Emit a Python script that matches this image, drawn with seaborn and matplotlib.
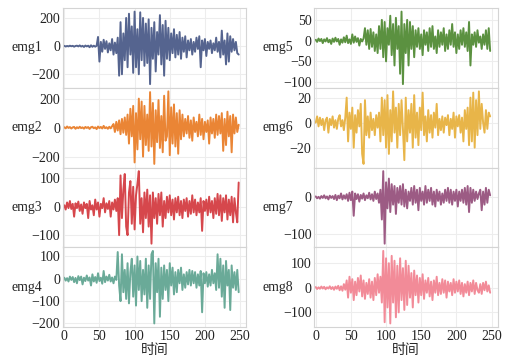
import matplotlib
matplotlib.use("Agg")
import matplotlib.pyplot as plt
import numpy as np
import pandas as pd
import seaborn as sns

# ── Data (one sample every 2 time steps) ─────────────────────────────────────
emg1 = [2, -3, 1, -2, 3, -1, 2, -4, 1, 3, -2, 5, -3, 2, -6, 4, -2, 3, -8, 6, -5, 3, -4, 2,
        65, -110, 30, -40, 45, -20, 35, -45, 20, -30, 50, -60, 25, -50, 60,
        -210, 170, -200, 90, -100, 200, -150, 230, -60, 140, -190, 245, -150, 120, -200,
        240, -100, 200, -140, 160, -120, 190, -270, 130, -90, 170, -180, 100, -60, 220,
        -130, 150, -210, 180, -90, 130, -100, 90, -50, 120, -80, 80, -60, 100, -90,
        60, -40, 70, -80, 40, -30, 50, -60, 30, -40, 60, -20, 70, -150, 40, -30,
        50, -70, 30, -20, 40, -50, 20, -30, 60, -40, 30, -80, 110, -60, 40, -130,
        90, -110, 70, -40, 50, -30, 30, -50, -60]
emg2 = [3, -5, 8, -2, 4, -6, 2, 5, -8, 3, -4, 6, -3, 2, -7, 5, -2, 4, -9, 3, 6, -4, 2, -10,
        8, -3, 5, -6, 12, -4, 3, -8, 6, -5, 10,
        25, -30, 40, -20, 50, -45, 60, -35, 70, -50,
        90, -110, 130, -60, 150, -240, 100, -150, 200, -80, 180, -200, 150, -120, 90,
        -160, 245, -130, 170, -250, 120, -100, 190, -140, 80, -170, 220, -90, -60, 250,
        -190, 140, -110, 160, -130, 100, -180, 120, -80, 90, -60,
        60, -40, 80, -70, 50, -90, 70, -30, 40, -60, 90, -50, 60, -80, 40, -30, 50,
        -110, 70, -40, 60, -70, 90, -50, 80, -40, 100, -160, 60, -120, 110, -60, 80,
        -170, 90, -40, 70, -30, 20]
emg3 = [5, -10, 15, -5, 20, -8, 10, -35, 12, -5, 18, -15, 8, -25, 15, -5, 10, -40, 20, -10,
        5, -30, 25, -10, 15, -35, 10, -5, 30, -20, 12, -8, 20, -35, 15, -10, 25, -15,
        30, -100, 110, -40, 60, 115, -70, -100, 50, 90, -60, 70, -80, 40, 80, 125, -60,
        30, -90, 50, -40, 60, -70,
        40, -130, 50, -40, 30, -60, 45, -30, 50, -70, 20, -40, 35, -20, 40, -30, 25, -45,
        30, -20, 35, -30, 20, -40, 25, -15, 30, -35, 20, -25, 40, -20, 25, -30, 15, -20,
        30, -85, 20, -15, 25, -30, 35, -20, 20, -40, 30, -25, 45, -30, 40, -50, 30, -20,
        40, -45, 25, -30, 35, -55, 30, -20, -55, 85]
emg4 = [5, -8, 3, -12, 10, -5, 8, -15, 4, -20, 12, -6, 10, -25, 5, -10, 15, -8, 6, -30,
        20, -12, 8, -18, 25, -10, 5, -22, 35, -15, 10, -8, 18, -12, 6, -20, 10, -5,
        120, -30, -100, 110, -60, 40, -90, 70, -110, 30, 90, -80, 60, -120, 100, -50, 80,
        -100, 40, -70, 90, -130, 60, -90, 110, 125, -200, 70, -60, 90, -170, 50, -90, 60,
        -50, 40, -100, 70, -30, 50, -70, 30, -60, 40, -20, 50, -50, 20, -40, 30, -25, 40,
        -30, 35, -20, 30, -40, 20, -30, 35, -150, 25, -20, 30, -35, 20, -30, 40, -20, 25,
        -50, 110, -40, 90, -80, 60, -130, 80, -30, 40, -140, 60, -40, 30, -50, 40, -60]
emg5 = [2, -3, 5, -1, 4, -6, 3, -2, 6, -4, 2, -8, 5, -3, 7, -2, 4, -10, 3, -5, 8, -4, 12,
        -6, 3, -8, 15, -5, 10, -3, 6, -12, 4, -2, 5,
        30, -10, 25, -20, 28, -15, 20, -25, 15, -30, 35,
        -20, 50, -40, 45, -50, 30, -10, 60, -35, 40, -60, 55, -20, 35, -80, 70, -105, 40,
        -30, 50, -60, 45, -20, 35, -40,
        25, -15, 30, -20, 15, -35, 25, -10, 20, -25, 30, -15, 35, -20, 10, -30, 25, -15,
        20, -10, 30, -25, 15, -20, 25, -10, 40, -15, 20, -30, 15, -20, 25, -10, 30, -15,
        20, -25, 45, -60, 15, -10, 20, -15, 25, -5, 10, -20, 15, -10, 25, -20, 30, -25]
emg6 = [0, 5, -3, 4, -2, 3, -6, 2, 4, -8, 3, -2, 5, -4, 2, -5, 3, 6, -3, 2,
        -6, 4, 20, -15, 8, -5, 12, -20, 6, -8, 10, -3, 15, -25, -33, 18, -10, 5, -12, 8,
        -6, 3, -10, 6, -4, 8, -15, 20, -10, 18, -20, 22, -25, 10, -15, 25, -8, 12, -20, 15,
        -10, 18, -5, -30, 20, -15, 10, -8, 15, -20, 22, -12, 8, -18, 12, -6, 24, -10, 5, -15,
        10, -8, 6, -12, 8, -4, 15, -10, 3, -6, 5, -8, 4, -2, 6, -10, 3, -5, 8, -12,
        5, -3, 6, -8, 4, -15, 10, -5, 12, -18, 20, -15, 24, -20, 18, -10, 25, -5, 15, 0,
        -8, 10, -5, 8, 5]
emg7 = [2, -3, 1, -4, 3, -2, 5, -3, 2, -6, 4, -2, 3, -5, 6, -8, 4, -3, 10, -6, 5, -4, 8,
        -10, 12, -8, 15, -50, 10, -5, 8, -12, 6, -4, 10, -8, 5, -3, 12, -6, 8, -10, 15,
        -5, 10, -15, 20, -60, 70, -125, 40, -30, 50, -40, 35, -20, 30, -45, 25, -15, 30,
        -20, 35, -25, 20, -30, 15, -10, 25, -20, 30, -15, 20, -35, 25, -10, 15, -20, 30,
        -15, 20, -10, 25, -20, 15, -25, 20, -10, 15, -20, 10, -15, 20, -10, 25, -15, 20,
        -20, 15, -10, 20, -25, 15, -10, 20, -15, 25, -20, 30, -40, 25, -15, 20, -10, 15,
        -5, 10, 20, -35, 15, -20, 25, -15, 20, 5]
emg8 = [3, -5, 2, -4, 5, -3, 4, -6, 2, -3, 6, -5, 3, -8, 5, -4, 8, -10, 6, -12, 15, -8,
        30, -40, 45, -20, 35, -50, 25, -30, 40, -15, 50, -35, 30, -45, 20, -25, 35, -40,
        25, -50, 40, -30, 55, -20, 45, -60,
        150, -140, 120, -80, 100, -145, 130, -60, 110, -120, 90, -100, 120, -50, 80, -90,
        110, -70, 90, -40, 60, -80, 70, -30,
        50, -60, 40, -30, 55, -45, 30, -20, 40, -35, 25, -50, 30, -20, 45, -30, 20, -25,
        35, -20, 30, -40, 25, -15, 20, -30, 35, -20, 25, -15, 30, -25, 20, -35, 15, -20,
        25, -30, 20, -15, 30, -25, 20, -10, -20, 15, -25, 20, -10, 25, -15, 10, -20]

series = [emg1, emg2, emg3, emg4, emg5, emg6, emg7, emg8]
names = ["emg1", "emg2", "emg3", "emg4", "emg5", "emg6", "emg7", "emg8"]
colors = ["#55648f", "#ea8535", "#d6474c", "#6aaa98",
          "#5b9140", "#e8b549", "#9c5b84", "#f28b98"]
yticks = [[-200, 0, 200], [-200, 0, 200], [-100, 0, 100], [-200, -100, 0, 100],
          [-100, -50, 0, 50], [-20, 0, 20], [-100, 0], [-100, 0, 100]]
xticks = [0, 50, 100, 150, 200, 250]

# ── Style ────────────────────────────────────────────────────────────────────
sns.set_style("whitegrid", {"grid.color": "#ededed", "axes.edgecolor": "#d4d4d4"})
plt.rcParams['font.family'] = ['Liberation Serif', 'Noto Sans CJK SC']
plt.rcParams['font.size'] = 10

fig, axes = plt.subplots(4, 2, figsize=(5.07, 3.63), dpi=100, sharex=True)
fig.subplots_adjust(left=0.124, right=0.982, top=0.978, bottom=0.099,
                    hspace=0, wspace=0.37)

for k, (vals, name, col) in enumerate(zip(series, names, colors)):
    ax = axes[k % 4, k // 4]
    df = pd.DataFrame({"t": np.arange(len(vals)) * 2, "v": vals})
    sns.lineplot(data=df, x="t", y="v", ax=ax, color=col, linewidth=1.4)
    ax.set_yticks(yticks[k])
    ax.set_xticks(xticks)
    ax.set_xlim(-2, 259)
    ax.set_ylabel(name, rotation=0, ha="right", va="center", fontsize=10)
    ax.yaxis.set_label_coords(-0.115, 0.5)
    ax.tick_params(axis="both", length=0, pad=2, labelsize=10, colors="#222222")
    ax.set_xlabel("")
    for s in ax.spines.values():
        s.set_linewidth(0.8)

axes[3, 0].set_xlabel("时间", fontsize=10, labelpad=1)
axes[3, 1].set_xlabel("时间", fontsize=10, labelpad=1)

plt.savefig("out.png", dpi=100)
plt.close()
